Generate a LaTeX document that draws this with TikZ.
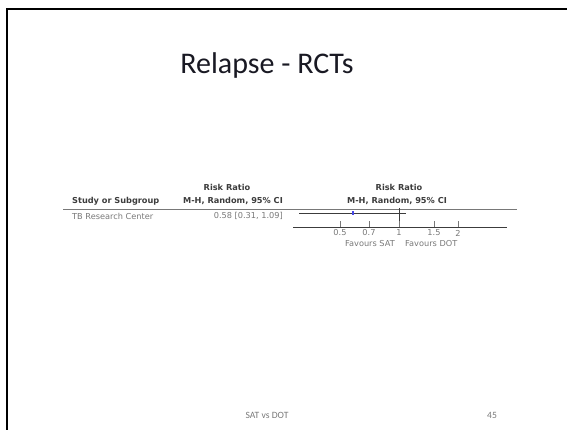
\documentclass[tikz,border=0pt]{standalone}
\usepackage{fontspec}
\setmainfont{Carlito}
\newfontfamily\plotfont{DejaVu Sans}
\definecolor{SlideInk}{RGB}{25,25,35}
\definecolor{PlotInk}{RGB}{60,60,60}
\definecolor{PlotGray}{RGB}{120,120,120}
\definecolor{PointBlue}{RGB}{70,70,230}
\usetikzlibrary{positioning}

\begin{document}
\begin{tikzpicture}[x=1pt, y=-1pt,
	every node/.style={inner sep=0pt},
	slidetitle/.style={font=\fontsize{30}{32}\selectfont, text=SlideInk},
	hdr/.style={font=\plotfont\bfseries\fontsize{8.2}{9}\selectfont, text=PlotInk},
	cell/.style={font=\plotfont\fontsize{8.2}{9}\selectfont, text=PlotGray},
	ticklab/.style={font=\plotfont\fontsize{8.2}{9}\selectfont, text=PlotGray},
	footer/.style={font=\fontsize{9.6}{10}\selectfont, text=PlotGray},
	rule/.style={draw=PlotGray, line width=0.6pt}]
	\useasboundingbox (0,0) rectangle (567,430);
	% slide frame
	\draw[line width=2.6pt] (7,431) |- (568,9);
	\node[slidetitle] (title) at (267,66) {Relapse - RCTs};

	% table header
	\node[hdr] (rrA) at (227,187) {Risk Ratio};
	\node[hdr, anchor=east] (mhA) at (283,201) {M-H, Random, 95\% CI};
	\node[hdr, anchor=west] (study) at (72,201) {Study or Subgroup};
	\node[hdr] (rrB) at (399,187) {Risk Ratio};
	\node[hdr] (mhB) at (397,201) {M-H, Random, 95\% CI};
	\coordinate (ruleL) at (63,209);
	\coordinate (ruleR) at (517,209);
	\draw[rule] (ruleL) -- (ruleR);

	% study row
	\node[cell, anchor=west] (trial) at (72,216) {TB Research Center};
	\node[cell, anchor=east] (est) at (283,216) {0.58 [0.31, 1.09]};
	\coordinate (lo) at (299,213);
	\coordinate (hi) at (406,213);
	\draw[PlotInk, line width=0.6pt] (lo) -- (hi);
	\node[fill=PointBlue, minimum width=2pt, minimum height=3.5pt] (pt) at (353,213) {};

	% axis
	\coordinate (axL) at (293,227);
	\coordinate (axR) at (507,227);
	\coordinate (nullTop) at (399,208);
	\draw[PlotInk, line width=0.6pt] (axL) -- (axR);
	\draw[PlotInk, line width=0.7pt] (nullTop) -- (399,227);
	\foreach \v/\x in {0.5/340, 0.7/369, 1/399, 1.5/434, 2/458} {
		\draw[PlotGray, line width=0.5pt] (\x,227) -- (\x,221);
		\node[ticklab] (tick\x) at (\x,233) {\v};
	}
	\node[ticklab, anchor=east] (favA) at (395,244) {Favours SAT};
	\node[ticklab, anchor=west] (favB) at (405,244) {Favours DOT};

	% footer
	\node[footer] (foot) at (267,415) {SAT vs DOT};
	\node[footer] (page) at (492,415) {45};
\end{tikzpicture}
\end{document}
